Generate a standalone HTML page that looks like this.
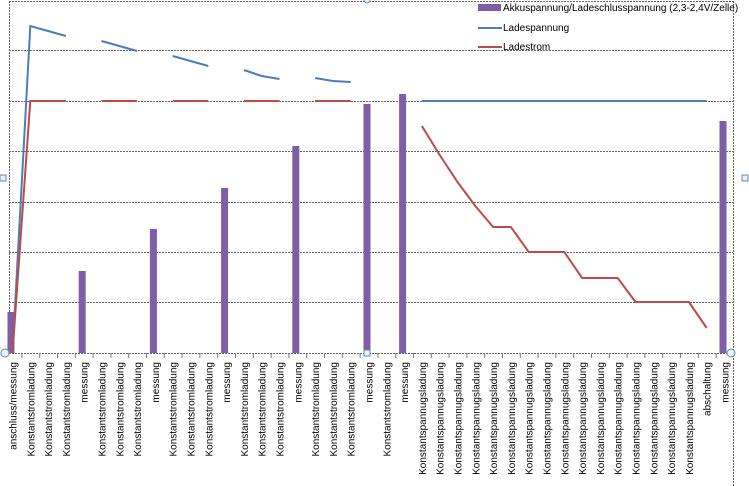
<!DOCTYPE html>
<html><head><meta charset="utf-8"><style>
html,body{margin:0;padding:0;background:#fff;}
svg{display:block;font-family:"Liberation Sans",sans-serif;}
</style></head><body>
<svg width="749" height="486" viewBox="0 0 749 486" xmlns="http://www.w3.org/2000/svg">
<rect width="749" height="486" fill="#fff"/>
<g stroke="#666" stroke-width="1" stroke-dasharray="2,1">
<line x1="9" y1="1.5" x2="733" y2="1.5"/>
<line x1="9" y1="50.5" x2="733" y2="50.5"/>
<line x1="9" y1="101.5" x2="733" y2="101.5"/>
<line x1="9" y1="151.5" x2="733" y2="151.5"/>
<line x1="9" y1="202.5" x2="733" y2="202.5"/>
<line x1="9" y1="252.5" x2="733" y2="252.5"/>
<line x1="9" y1="302.5" x2="733" y2="302.5"/>
<line x1="9" y1="353.5" x2="733" y2="353.5"/>
<line x1="9.5" y1="1" x2="9.5" y2="353"/>
<line x1="733.5" y1="1" x2="733.5" y2="486"/>
</g>
<g stroke="#777" stroke-width="1">
<line x1="21.9" y1="353" x2="21.9" y2="358"/><line x1="39.7" y1="353" x2="39.7" y2="358"/><line x1="57.5" y1="353" x2="57.5" y2="358"/><line x1="75.3" y1="353" x2="75.3" y2="358"/><line x1="93.1" y1="353" x2="93.1" y2="358"/><line x1="110.9" y1="353" x2="110.9" y2="358"/><line x1="128.7" y1="353" x2="128.7" y2="358"/><line x1="146.5" y1="353" x2="146.5" y2="358"/><line x1="164.3" y1="353" x2="164.3" y2="358"/><line x1="182.1" y1="353" x2="182.1" y2="358"/><line x1="199.9" y1="353" x2="199.9" y2="358"/><line x1="217.7" y1="353" x2="217.7" y2="358"/><line x1="235.5" y1="353" x2="235.5" y2="358"/><line x1="253.3" y1="353" x2="253.3" y2="358"/><line x1="271.1" y1="353" x2="271.1" y2="358"/><line x1="288.9" y1="353" x2="288.9" y2="358"/><line x1="306.7" y1="353" x2="306.7" y2="358"/><line x1="324.5" y1="353" x2="324.5" y2="358"/><line x1="342.3" y1="353" x2="342.3" y2="358"/><line x1="360.1" y1="353" x2="360.1" y2="358"/><line x1="377.9" y1="353" x2="377.9" y2="358"/><line x1="395.7" y1="353" x2="395.7" y2="358"/><line x1="413.5" y1="353" x2="413.5" y2="358"/><line x1="431.3" y1="353" x2="431.3" y2="358"/><line x1="449.1" y1="353" x2="449.1" y2="358"/><line x1="466.9" y1="353" x2="466.9" y2="358"/><line x1="484.7" y1="353" x2="484.7" y2="358"/><line x1="502.5" y1="353" x2="502.5" y2="358"/><line x1="520.3" y1="353" x2="520.3" y2="358"/><line x1="538.1" y1="353" x2="538.1" y2="358"/><line x1="555.9" y1="353" x2="555.9" y2="358"/><line x1="573.7" y1="353" x2="573.7" y2="358"/><line x1="591.5" y1="353" x2="591.5" y2="358"/><line x1="609.3" y1="353" x2="609.3" y2="358"/><line x1="627.1" y1="353" x2="627.1" y2="358"/><line x1="644.9" y1="353" x2="644.9" y2="358"/><line x1="662.7" y1="353" x2="662.7" y2="358"/><line x1="680.5" y1="353" x2="680.5" y2="358"/><line x1="698.3" y1="353" x2="698.3" y2="358"/><line x1="716.1" y1="353" x2="716.1" y2="358"/>
</g>
<g fill="#7e5fa5">
<rect x="7.5" y="312" width="7" height="41"/>
<rect x="78.7" y="271" width="7" height="82"/>
<rect x="149.9" y="229" width="7" height="124"/>
<rect x="221.1" y="188" width="7" height="165"/>
<rect x="292.3" y="146" width="7" height="207"/>
<rect x="363.5" y="104" width="7" height="249"/>
<rect x="399.1" y="94" width="7" height="259"/>
<rect x="719.5" y="121" width="7" height="232"/>
</g>
<g fill="none" stroke="#4a7ebb" stroke-width="2">
<polyline points="12.5,353 30.3,26 48.1,31 65.9,36"/>
<polyline points="101.5,41 119.3,46 137.1,51"/>
<polyline points="172.7,56 190.5,61 208.3,66"/>
<polyline points="243.9,70 261.7,76 279.5,79"/>
<polyline points="315.1,78 332.9,81 350.7,82"/>
<polyline points="421.9,101 706.7,101"/>
</g>
<g fill="none" stroke="#be4b48" stroke-width="2">
<polyline points="12.5,353 30.3,101 65.9,101"/>
<polyline points="101.5,101 137.1,101"/>
<polyline points="172.7,101 208.3,101"/>
<polyline points="243.9,101 279.5,101"/>
<polyline points="315.1,101 350.7,101"/>
<polyline points="421.9,126 439.7,155 457.5,182 475.3,206 493.1,227 510.9,227 528.7,252 546.5,252 564.3,252 582.1,278 599.9,278 617.7,278 635.5,302 653.3,302 671.1,302 688.9,302 706.7,328"/>
</g>
<g font-size="10" fill="#000" text-anchor="end">
<text transform="translate(16.5,362) rotate(-90)">anschluss/messung</text>
<text transform="translate(34.3,362) rotate(-90)">Konstantstromladung</text>
<text transform="translate(52.1,362) rotate(-90)">Konstantstromladung</text>
<text transform="translate(69.9,362) rotate(-90)">Konstantstromladung</text>
<text transform="translate(87.7,362) rotate(-90)">messung</text>
<text transform="translate(105.5,362) rotate(-90)">Konstantstromladung</text>
<text transform="translate(123.3,362) rotate(-90)">Konstantstromladung</text>
<text transform="translate(141.1,362) rotate(-90)">Konstantstromladung</text>
<text transform="translate(158.9,362) rotate(-90)">messung</text>
<text transform="translate(176.7,362) rotate(-90)">Konstantstromladung</text>
<text transform="translate(194.5,362) rotate(-90)">Konstantstromladung</text>
<text transform="translate(212.3,362) rotate(-90)">Konstantstromladung</text>
<text transform="translate(230.1,362) rotate(-90)">messung</text>
<text transform="translate(247.9,362) rotate(-90)">Konstantstromladung</text>
<text transform="translate(265.7,362) rotate(-90)">Konstantstromladung</text>
<text transform="translate(283.5,362) rotate(-90)">Konstantstromladung</text>
<text transform="translate(301.3,362) rotate(-90)">messung</text>
<text transform="translate(319.1,362) rotate(-90)">Konstantstromladung</text>
<text transform="translate(336.9,362) rotate(-90)">Konstantstromladung</text>
<text transform="translate(354.7,362) rotate(-90)">Konstantstromladung</text>
<text transform="translate(372.5,362) rotate(-90)">messung</text>
<text transform="translate(390.3,362) rotate(-90)">Konstantstromladung</text>
<text transform="translate(408.1,362) rotate(-90)">messung</text>
<text transform="translate(425.9,362) rotate(-90)">Konstantspannugsladung</text>
<text transform="translate(443.7,362) rotate(-90)">Konstantspannugsladung</text>
<text transform="translate(461.5,362) rotate(-90)">Konstantspannugsladung</text>
<text transform="translate(479.3,362) rotate(-90)">Konstantspannugsladung</text>
<text transform="translate(497.1,362) rotate(-90)">Konstantspannugsladung</text>
<text transform="translate(514.9,362) rotate(-90)">Konstantspannugsladung</text>
<text transform="translate(532.7,362) rotate(-90)">Konstantspannugsladung</text>
<text transform="translate(550.5,362) rotate(-90)">Konstantspannugsladung</text>
<text transform="translate(568.3,362) rotate(-90)">Konstantspannugsladung</text>
<text transform="translate(586.1,362) rotate(-90)">Konstantspannugsladung</text>
<text transform="translate(603.9,362) rotate(-90)">Konstantspannugsladung</text>
<text transform="translate(621.7,362) rotate(-90)">Konstantspannugsladung</text>
<text transform="translate(639.5,362) rotate(-90)">Konstantspannugsladung</text>
<text transform="translate(657.3,362) rotate(-90)">Konstantspannugsladung</text>
<text transform="translate(675.1,362) rotate(-90)">Konstantspannugsladung</text>
<text transform="translate(692.9,362) rotate(-90)">Konstantspannugsladung</text>
<text transform="translate(710.7,362) rotate(-90)">abschaltung</text>
<text transform="translate(728.5,362) rotate(-90)">messung</text>
</g>
<rect x="478" y="4" width="23" height="7" fill="#7e5fa5"/>
<text x="503" y="11" font-size="10">Akkuspannung/Ladeschlusspannung (2,3-2,4V/Zelle)</text>
<line x1="478" y1="28" x2="502" y2="28" stroke="#4a7ebb" stroke-width="2"/>
<text x="503" y="31" font-size="10">Ladespannung</text>
<line x1="478" y1="47" x2="502" y2="47" stroke="#be4b48" stroke-width="2"/>
<text x="503" y="50" font-size="10">Ladestrom</text>
<g fill="#e8f2f8" stroke="#6a8aa0" stroke-width="1">
<circle cx="5" cy="353" r="4"/><circle cx="731" cy="353" r="4"/><circle cx="367" cy="0" r="3"/>
<rect x="0" y="175" width="6" height="6"/><rect x="742" y="175" width="6" height="6"/>
<rect x="364" y="350" width="6" height="6"/>
</g>
</svg>
</body></html>
